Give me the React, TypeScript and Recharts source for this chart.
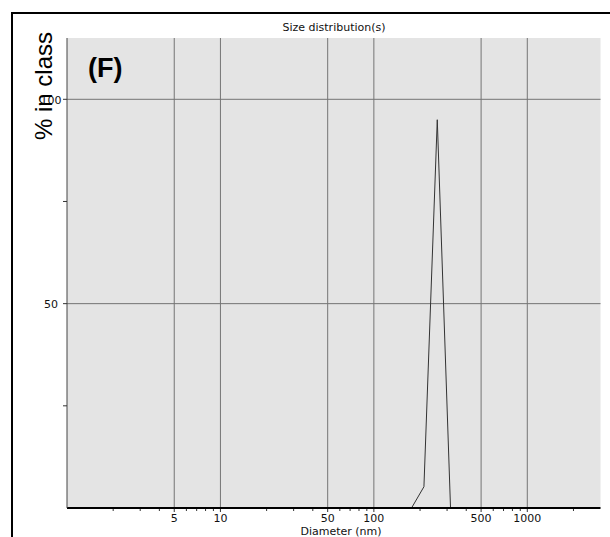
import { CartesianGrid, Line, LineChart, XAxis, YAxis } from "recharts";

// size distribution (diameter in nm, % in class)
const diameters = [176, 212, 259, 316];
const percentInClass = [0, 5.2, 95, 0];

const xLabelTicks = [5, 10, 50, 100, 500, 1000];
const xMinorTicks = [2, 3, 4, 6, 7, 8, 9, 20, 30, 40, 60, 70, 80, 90, 200, 300, 400, 600, 700, 800, 900, 2000];
const yTicks = [25, 50, 75, 100];
const yLabelTicks = [50, 100];

const data = diameters.map((d, i) => ({ d, pct: percentInClass[i] }));
const xTicks = [...xLabelTicks, ...xMinorTicks].sort((a, b) => a - b);

const small = { fontFamily: "'DejaVu Sans', sans-serif", fontSize: 11, fill: "#111" };

function XTick({ x, y, payload }: { x: number; y: number; payload: { value: number } }) {
  const major = xLabelTicks.includes(payload.value);
  return (
    <g>
      <line x1={x} x2={x} y1={y + 1} y2={y + (major ? 4 : 3)} stroke="#333" />
      {major && (
        <text x={x} y={y + 13.5} textAnchor="middle" {...small}>
          {payload.value}
        </text>
      )}
    </g>
  );
}

function YTick({ x, y, payload }: { x: number; y: number; payload: { value: number } }) {
  const major = yLabelTicks.includes(payload.value);
  return (
    <g>
      <line x1={x - 4} x2={x} y1={y} y2={y} stroke="#333" />
      {major && (
        <text x={x - 16} y={y + 4.5} textAnchor="middle" {...small}>
          {payload.value}
        </text>
      )}
    </g>
  );
}

export default function App() {
  return (
    <div style={{ position: "absolute", left: 0, top: 0, width: 610, height: 537, background: "#fff", overflow: "hidden" }}>
      <div
        style={{
          position: "absolute",
          left: 11,
          top: 12,
          width: 620,
          height: 540,
          borderLeft: "2px solid #000",
          borderTop: "2px solid #000",
        }}
      />
      <div style={{ position: "absolute", left: 0, top: 0 }}>
        <LineChart width={610} height={537} data={data} margin={{ top: 38, right: 9.5, bottom: 0, left: 7 }}>
          <CartesianGrid
            fill="#e4e4e4"
            stroke="#747474"
            horizontalValues={yLabelTicks}
            verticalValues={xLabelTicks}
          />
          <XAxis
            dataKey="d"
            type="number"
            scale="log"
            domain={[1, 3000]}
            allowDataOverflow
            ticks={xTicks}
            interval={0}
            height={29}
            tickSize={0}
            tickMargin={0}
            tick={XTick}
            axisLine={{ stroke: "#000", strokeWidth: 2 }}
          />
          <XAxis
            xAxisId="top"
            orientation="top"
            type="number"
            scale="log"
            domain={[1, 3000]}
            allowDataOverflow
            height={0}
            tick={false}
            tickLine={false}
            axisLine={{ stroke: "#222" }}
          />
          <YAxis
            type="number"
            domain={[0, 115]}
            allowDataOverflow
            ticks={yTicks}
            interval={0}
            width={60}
            tickSize={0}
            tickMargin={0}
            tick={YTick}
            axisLine={{ stroke: "#444" }}
          />
          <YAxis
            yAxisId="right"
            orientation="right"
            domain={[0, 115]}
            width={0}
            tick={false}
            tickLine={false}
            axisLine={{ stroke: "#555", strokeWidth: 3 }}
          />
          <Line
            type="linear"
            dataKey="pct"
            stroke="#333"
            strokeWidth={1}
            dot={false}
            isAnimationActive={false}
          />
        </LineChart>
      </div>
      <svg width={610} height={537} style={{ position: "absolute", left: 0, top: 0, pointerEvents: "none" }}>
        <text x={334} y={30.5} textAnchor="middle" {...small}>
          Size distribution(s)
        </text>
        <text x={341} y={534.5} textAnchor="middle" {...small}>
          Diameter (nm)
        </text>
        <text
          x={88}
          y={77}
          fontFamily="'Liberation Sans', Arial, sans-serif"
          fontWeight="bold"
          fontSize={27}
          fill="#000"
        >
          (F)
        </text>
        <text
          transform="translate(52,86) rotate(-90)"
          textAnchor="middle"
          fontFamily="'Liberation Sans', Arial, sans-serif"
          fontSize={24}
          fill="#000"
        >
          % in class
        </text>
      </svg>
    </div>
  );
}
